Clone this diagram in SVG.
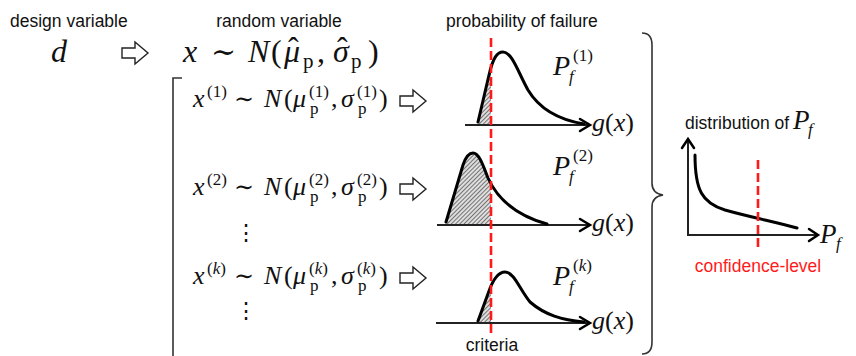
<svg xmlns="http://www.w3.org/2000/svg" width="856" height="356" viewBox="0 0 856 356">
<style>
 .lbl{font-family:"Liberation Sans",Arial,sans-serif;font-size:17.5px;fill:#111}
 .m{font-family:"Liberation Serif","DejaVu Serif",serif;font-style:italic;fill:#111}
 .up{font-style:normal}
 .sym{font-family:"DejaVu Serif",serif;font-style:normal}
 .curve{fill:none;stroke:#000;stroke-width:3;stroke-linejoin:round;stroke-linecap:round}
 .axis{fill:none;stroke:#222;stroke-width:2}
 .ahead{fill:none;stroke:#000;stroke-width:2.5;stroke-linecap:round}
 .crit{stroke:#ff1a1a;stroke-width:2.6;stroke-dasharray:9 4;fill:none}
 .harrow{fill:#fff;stroke:#222;stroke-width:1.4}
 .brace{fill:none;stroke:#333;stroke-width:1.6}
 .hatch{fill:url(#hatch);stroke:none}
</style>
<defs>
 <pattern id="hatch" width="3" height="3" patternUnits="userSpaceOnUse" patternTransform="rotate(45)">
  <rect width="3" height="3" fill="#dedede"/>
  <line x1="0.5" y1="0" x2="0.5" y2="3" stroke="#666" stroke-width="0.9"/>
 </pattern>
 <clipPath id="leftOfCrit"><rect x="400" y="0" width="91" height="356"/></clipPath>
 <path id="harr" d="M0,-5 H13 V-11 L26,0 L13,11 V5 H0 Z"/>
</defs>

<g id="design-variable">
 <text class="lbl" x="10" y="27">design variable</text>
 <text class="m" x="51" y="62" font-size="32">d</text>
</g>

<g id="random-variable">
 <text class="lbl" x="279" y="27" text-anchor="middle">random variable</text>
 <text class="m" font-size="32">
  <tspan x="183" y="62">x</tspan>
  <tspan class="sym" x="211" y="62" font-size="30">∼</tspan>
  <tspan x="248" y="62">N</tspan>
  <tspan class="up" x="271" y="62">(</tspan>
  <tspan x="284" y="62">μ</tspan>
  <tspan class="up" x="288" y="59">ˆ</tspan>
  <tspan class="up" x="303" y="68" font-size="21">p</tspan>
  <tspan class="up" x="317" y="62">,</tspan>
  <tspan x="333" y="62">σ</tspan>
  <tspan class="up" x="337" y="59">ˆ</tspan>
  <tspan class="up" x="351" y="68" font-size="21">p</tspan>
  <tspan class="up" x="368" y="62">)</tspan>
 </text>
</g>

<g id="sample-1" transform="translate(0,107)">
 <text class="m" font-size="26">
  <tspan x="193" y="0">x</tspan>
  <tspan class="up" x="207" y="-10" font-size="17">(1)</tspan>
  <tspan class="sym" x="234" y="0" font-size="24">∼</tspan>
  <tspan x="264" y="0">N</tspan>
  <tspan class="up" x="284" y="0">(</tspan>
  <tspan x="293" y="0">μ</tspan>
  <tspan class="up" x="309" y="-10" font-size="17">(1)</tspan>
  <tspan class="up" x="310" y="7" font-size="17">p</tspan>
  <tspan class="up" x="331" y="0">,</tspan>
  <tspan x="341" y="0">σ</tspan>
  <tspan class="up" x="357" y="-10" font-size="17">(1)</tspan>
  <tspan class="up" x="358" y="7" font-size="17">p</tspan>
  <tspan class="up" x="379" y="0">)</tspan>
 </text>
</g>

<g id="sample-2" transform="translate(0,195)">
 <text class="m" font-size="26">
  <tspan x="193" y="0">x</tspan>
  <tspan class="up" x="207" y="-10" font-size="17">(2)</tspan>
  <tspan class="sym" x="234" y="0" font-size="24">∼</tspan>
  <tspan x="264" y="0">N</tspan>
  <tspan class="up" x="284" y="0">(</tspan>
  <tspan x="293" y="0">μ</tspan>
  <tspan class="up" x="309" y="-10" font-size="17">(2)</tspan>
  <tspan class="up" x="310" y="7" font-size="17">p</tspan>
  <tspan class="up" x="331" y="0">,</tspan>
  <tspan x="341" y="0">σ</tspan>
  <tspan class="up" x="357" y="-10" font-size="17">(2)</tspan>
  <tspan class="up" x="358" y="7" font-size="17">p</tspan>
  <tspan class="up" x="379" y="0">)</tspan>
 </text>
</g>

<g id="dots-1"><text class="m up" x="246" y="240" font-size="22" text-anchor="middle">⋮</text></g>

<g id="sample-k" transform="translate(0,284)">
 <text class="m" font-size="26">
  <tspan x="193" y="0">x</tspan>
  <tspan class="up" x="207" y="-10" font-size="17">(<tspan font-style="italic">k</tspan>)</tspan>
  <tspan class="sym" x="234" y="0" font-size="24">∼</tspan>
  <tspan x="264" y="0">N</tspan>
  <tspan class="up" x="284" y="0">(</tspan>
  <tspan x="293" y="0">μ</tspan>
  <tspan class="up" x="309" y="-10" font-size="17">(<tspan font-style="italic">k</tspan>)</tspan>
  <tspan class="up" x="310" y="7" font-size="17">p</tspan>
  <tspan class="up" x="331" y="0">,</tspan>
  <tspan x="341" y="0">σ</tspan>
  <tspan class="up" x="357" y="-10" font-size="17">(<tspan font-style="italic">k</tspan>)</tspan>
  <tspan class="up" x="358" y="7" font-size="17">p</tspan>
  <tspan class="up" x="379" y="0">)</tspan>
 </text>
</g>

<g id="dots-2"><text class="m up" x="246" y="318" font-size="22" text-anchor="middle">⋮</text></g>

<g id="plot-1">
 <text class="lbl" x="446" y="27">probability of failure</text>
 <path class="hatch" clip-path="url(#leftOfCrit)" d="M478,125 L478,122 L489,75 C493,58 497,52 503,52 L503,125 Z"/>
 <line class="axis" x1="465" y1="125" x2="589" y2="125"/>
 <path class="ahead" d="M580,119 L590,125 L580,131"/>
 <path class="curve" d="M478,122 L489,75 C493,58 497,52 503,52 C512,52 518,72 528,90 C540,110 560,120 584,124"/>
 <text class="m" font-size="28"><tspan x="553" y="75">P</tspan><tspan x="569" y="82" font-size="17">f</tspan><tspan class="up" x="573" y="61" font-size="17">(1)</tspan></text>
 <text class="m" font-size="26"><tspan x="592" y="131">g</tspan><tspan class="up">(</tspan>x<tspan class="up">)</tspan></text>
</g>

<g id="plot-2">
 <path class="hatch" clip-path="url(#leftOfCrit)" d="M446,225 L446,222 L463,165 C466,156 469,153 473,153 C479,153 483,165 488,178 C497,198 515,215 547,224 L547,225 Z"/>
 <line class="axis" x1="437" y1="225" x2="589" y2="225"/>
 <path class="ahead" d="M580,219 L590,225 L580,231"/>
 <path class="curve" d="M446,222 L463,165 C466,156 469,153 473,153 C479,153 483,165 488,178 C497,198 515,215 547,224"/>
 <text class="m" font-size="28"><tspan x="553" y="175">P</tspan><tspan x="569" y="182" font-size="17">f</tspan><tspan class="up" x="573" y="161" font-size="17">(2)</tspan></text>
 <text class="m" font-size="26"><tspan x="592" y="231">g</tspan><tspan class="up">(</tspan>x<tspan class="up">)</tspan></text>
</g>

<g id="plot-k">
 <path class="hatch" clip-path="url(#leftOfCrit)" d="M478,323 L478,321 L489,291 C493,280 498,272 505,272 L505,323 Z"/>
 <line class="axis" x1="436" y1="323" x2="589" y2="323"/>
 <path class="ahead" d="M580,317 L590,323 L580,329"/>
 <path class="curve" d="M478,321 L489,291 C493,280 498,272 505,272 C514,272 520,290 530,302 C545,315 562,320 584,322"/>
 <text class="m" font-size="28"><tspan x="553" y="285">P</tspan><tspan x="569" y="292" font-size="17">f</tspan><tspan class="up" x="573" y="271" font-size="17">(<tspan font-style="italic">k</tspan>)</tspan></text>
 <text class="m" font-size="26"><tspan x="592" y="329">g</tspan><tspan class="up">(</tspan>x<tspan class="up">)</tspan></text>
</g>

<g id="criteria">
 <line class="crit" x1="491" y1="38" x2="491" y2="333"/>
 <text class="lbl" x="492" y="351" text-anchor="middle" font-size="15">criteria</text>
</g>

<g id="distribution">
 <text class="lbl" x="685" y="129">distribution of</text>
 <text class="m" font-size="27"><tspan x="793" y="129">P</tspan><tspan x="808" y="135" font-size="17">f</tspan></text>
 <path class="axis" d="M688,140 V235 H817"/>
 <path class="ahead" d="M682,148 L688,139 L694,148"/>
 <path class="ahead" d="M809,229 L818,235 L809,241"/>
 <path class="curve" d="M695,155 C695,190 702,203 725,210 C750,217 775,222 797,228"/>
 <line class="crit" x1="758" y1="160" x2="758" y2="250"/>
 <text class="m" font-size="27"><tspan x="820" y="243">P</tspan><tspan x="836" y="249" font-size="17">f</tspan></text>
 <text class="lbl" x="758" y="272" text-anchor="middle" style="fill:#ff1a1a">confidence-level</text>
</g>

<g id="connectors">
 <use href="#harr" class="harrow" x="122" y="53"/>
 <use href="#harr" class="harrow" x="400" y="101"/>
 <use href="#harr" class="harrow" x="400" y="189"/>
 <use href="#harr" class="harrow" x="400" y="278"/>
 <path class="brace" d="M182,78 H173 V356"/>
 <path class="brace" d="M642,33 C649,33 652,37 652,45 V183 C652,190 656,194 663,195 C656,196 652,200 652,207 V342 C652,349 649,354 642,354"/>
</g>
</svg>
